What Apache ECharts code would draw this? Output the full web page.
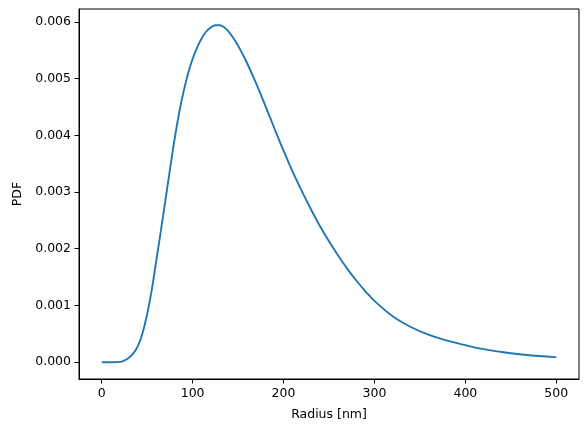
<!DOCTYPE html>
<html>
<head>
<meta charset="utf-8">
<script src="https://cdn.jsdelivr.net/npm/echarts@6/dist/echarts.min.js"></script>
<style>html,body{margin:0;padding:0;background:#fff;}#c{width:585px;height:432px;}</style>
</head>
<body>
<div id="c"></div>
<script>
const radius = [0,10,20,25,30,35,40,45,50,55,60,65,70,75,80,85,90,95,100,105,110,115,120,125,130,135,140,145,150,155,160,170,180,190,200,210,220,230,240,250,260,270,280,290,300,320,340,360,380,400,420,440,460,480,500];
const pdf = [0,0,0.000005,0.00003,0.00008,0.00016,0.00029,0.00052,0.00085,0.00127,0.00179,0.00231,0.00285,0.00339,0.00392,0.00438,0.00477,0.00509,0.00535,0.00555,0.00571,0.00583,0.0059,0.00594,0.00594,0.0059,0.00582,0.00571,0.00558,0.00543,0.00527,0.00491,0.00452,0.00412,0.00373,0.00336,0.00302,0.0027,0.0024,0.00213,0.00188,0.00165,0.00144,0.00125,0.00108,0.00081,0.00062,0.00048,0.00038,0.0003,0.00023,0.00018,0.00014,0.00011,0.00009];
const xTicks = [0,100,200,300,400,500];
const yTicks = [0,0.001,0.002,0.003,0.004,0.005,0.006];

const chart = echarts.init(document.getElementById('c'), null, {renderer:'canvas'});
const font = 'DejaVu Sans';
chart.setOption({
  animation:false,
  grid:{left:79, right:6, top:9, bottom:53, show:true, borderColor:'#000', borderWidth:1, backgroundColor:'transparent'},
  xAxis:{
    type:'value', min:-25, max:525,
    name:'Radius [nm]', nameLocation:'middle', nameGap:29,
    nameTextStyle:{fontFamily:font, fontSize:12.5, color:'#000'},
    axisLine:{show:true, onZero:false, lineStyle:{color:'#000', width:1}},
    axisTick:{show:true, length:4.5, customValues:xTicks, lineStyle:{color:'#000', width:1}},
    axisLabel:{customValues:xTicks, margin:8, fontFamily:font, fontSize:12.5, color:'#000'},
    splitLine:{show:false}
  },
  yAxis:{
    type:'value', min:-0.0002965, max:0.0062265,
    name:'PDF', nameLocation:'middle', nameGap:54,
    nameTextStyle:{fontFamily:font, fontSize:12.5, color:'#000'},
    axisLine:{show:true, onZero:false, lineStyle:{color:'#000', width:1}},
    axisTick:{show:true, length:4.5, customValues:yTicks, lineStyle:{color:'#000', width:1}},
    axisLabel:{customValues:yTicks, margin:8, fontFamily:font, fontSize:12.5, color:'#000', formatter:v=>v.toFixed(3)},
    splitLine:{show:false}
  },
  series:[{
    type:'line', data:radius.map((r,i)=>[r,pdf[i]]), smooth:0.4, showSymbol:false,
    lineStyle:{color:'#1f77b4', width:1.9}
  }]
});
</script>
</body>
</html>
